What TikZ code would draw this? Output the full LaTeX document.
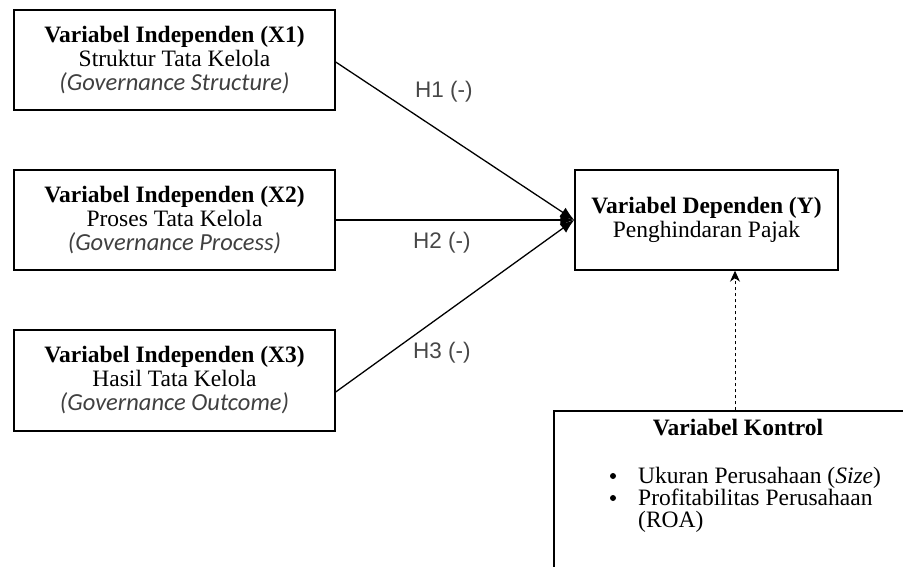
\documentclass[tikz,border=0pt]{standalone}
\usepackage{fontspec}
\setmainfont{Liberation Serif}
\newfontfamily\hfont{Liberation Sans}
\newfontfamily\itfont{Carlito}
\usetikzlibrary{arrows.meta,calc}
\tikzset{
  varbox/.style={draw=black, line width=1.4pt, rectangle, align=center, inner sep=0pt,
    font=\fontsize{23.5}{24}\selectfont},
  hyp/.style={anchor=base west, inner sep=0pt, text=black!72, font=\hfont\fontsize{22.5}{22.5}\selectfont},
  link/.style={line width=1.3pt, -{Latex[length=14pt,width=11pt]}},
  ctrllink/.style={line width=1pt, dash pattern=on 3pt off 3pt, -{Stealth[length=11pt,width=10pt]}},
  plain/.style={inner sep=0pt, font=\fontsize{23.5}{22}\selectfont}
}
\begin{document}
\begin{tikzpicture}[x=1pt,y=-1pt]
\useasboundingbox (0,0) rectangle (903,566);
\node[varbox, minimum width=321pt, minimum height=100pt] (x1) at (174.5,60)
  {\textbf{Variabel Independen (X1)}\\Struktur Tata Kelola\\{\itfont\itshape\fontsize{24.5}{24}\selectfont\color{black!75}(Governance Structure)}};
\node[varbox, minimum width=321pt, minimum height=100pt] (x2) at (174.5,220)
  {\textbf{Variabel Independen (X2)}\\Proses Tata Kelola\\{\itfont\itshape\fontsize{24.5}{24}\selectfont\color{black!75}(Governance Process)}};
\node[varbox, minimum width=321pt, minimum height=101pt] (x3) at (174.5,380.5)
  {\textbf{Variabel Independen (X3)}\\Hasil Tata Kelola\\{\itfont\itshape\fontsize{24.5}{24}\selectfont\color{black!75}(Governance Outcome)}};
\node[varbox, minimum width=263pt, minimum height=100pt] (y) at (706.5,220)
  {\textbf{Variabel Dependen (Y)}\\Penghindaran Pajak};
\node[draw=black, line width=1.4pt, rectangle, minimum width=362pt, minimum height=200pt, inner sep=0pt] (ctrl) at (735,511) {};
\node[plain, anchor=base] (ctrltitle) at (738,435) {\textbf{Variabel Kontrol}};
\node[plain, anchor=base west] (ctrllist1) at (638,483) {Ukuran Perusahaan (\textit{Size})};
\node[plain, anchor=base west] (ctrllist2) at (638,505) {Profitabilitas Perusahaan};
\node[plain, anchor=base west] (ctrllist3) at (638,527) {(ROA)};
\fill (ctrllist1.base west) ++(-25,-7) circle (3pt);
\fill (ctrllist2.base west) ++(-25,-7) circle (3pt);
\draw[link] ($(x1.east)+(0,2)$) -- (y.west);
\draw[link] (x2.east) -- (y.west);
\draw[link] ($(x3.east)+(0,11.5)$) -- (y.west);
\draw[ctrllink] (ctrl.north) -- (ctrl.north |- y.south);
\node[hyp] (h1) at (415,97) {H1 (-)};
\node[hyp] (h2) at (413,248) {H2 (-)};
\node[hyp] (h3) at (413,358) {H3 (-)};
\end{tikzpicture}
\end{document}
